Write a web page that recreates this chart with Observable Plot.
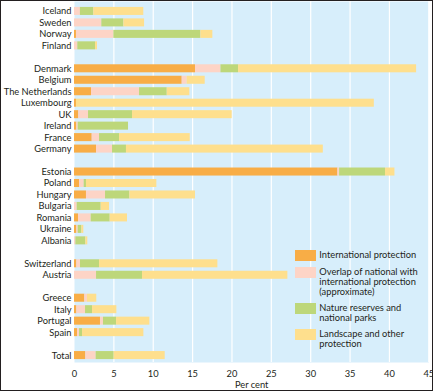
<!DOCTYPE html>
<html>
<head>
<meta charset="utf-8">
<script src="https://cdn.jsdelivr.net/npm/d3@7"></script>
<script src="https://cdn.jsdelivr.net/npm/@observablehq/plot@0.6"></script>
<style>
  html, body { margin: 0; padding: 0; background: #fff; }
  #wrap { position: relative; width: 433px; height: 391px; box-sizing: border-box; border: 1px solid #231f20; overflow: hidden; font-family: Lato, sans-serif; color: #231f20; }
  #wrap svg { display: block; }
  .lg-sw { position: absolute; width: 21px; height: 11px; }
  .lg-tx { position: absolute; font-size: 9.3px; line-height: 9.8px; white-space: nowrap; }
</style>
</head>
<body>
<div id="wrap"></div>
<script>
// Rows (spacers start with "_")
const rows = ["Iceland","Sweden","Norway","Finland","_g1",
  "Denmark","Belgium","The Netherlands","Luxembourg","UK","Ireland","France","Germany","_g2",
  "Estonia","Poland","Hungary","Bulgaria","Romania","Ukraine","Albania","_g3",
  "Switzerland","Austria","_g4",
  "Greece","Italy","Portugal","Spain","_g5",
  "Total"];
const countries = ["Iceland","Sweden","Norway","Finland",
  "Denmark","Belgium","The Netherlands","Luxembourg","UK","Ireland","France","Germany",
  "Estonia","Poland","Hungary","Bulgaria","Romania","Ukraine","Albania",
  "Switzerland","Austria",
  "Greece","Italy","Portugal","Spain",
  "Total"];
const series = ["International protection","Overlap of national with international protection (approximate)","Nature reserves and national parks","Landscape and other protection"];
const legendLines = [["International protection"],["Overlap of national with","international protection","(approximate)"],["Nature reserves and","national parks"],["Landscape and other","protection"]];
const colors = ["#f8ad46","#fdd4c6","#bdd77a","#fedf8d"];
const international = [0,0,0.25,0, 15.37,13.68,2.16,0.25,0.55,0.3,2.25,2.8, 33.46,0.64,1.52,0,0.51,0.3,0, 0.3,0, 1.31,0.3,3.3,0.38, 1.44];
const overlap       = [0.75,3.47,4.75,0.42, 3.23,0.62,6.1,0,1.23,0.17,0.93,2.03, 0.21,0.59,2.42,0.34,1.61,0.17,0.17, 0.46,2.8, 0.34,1.1,0.38,0.26, 1.31];
const nature        = [1.7,2.8,11.05,2.25, 2.24,0,3.52,0,5.59,6.39,2.54,1.77, 5.83,0.29,3.09,3.05,2.41,0.46,1.27, 2.42,5.84, 0,0.89,1.66,0.38, 2.29];
const landscape     = [6.35,2.63,1.52,0.25, 22.61,2.3,2.87,37.83,12.66,0,8.98,25.0, 1.2,8.94,8.34,1.06,2.2,0.25,0.25, 15.03,18.46, 1.18,3.09,4.23,7.79, 6.48];
const xTicks = [0,5,10,15,20,25,30,35,40,45];
const gridTicks = [5,10,15,20,25,30,35,40,45];

const valueArrays = [international, overlap, nature, landscape];
const long = [];
countries.forEach((c, i) => {
  series.forEach((s, j) => {
    const v = valueArrays[j][i];
    if (v > 0) long.push({country: c, series: s, value: v});
  });
});

const chart = Plot.plot({
  width: 431,
  height: 389,
  marginLeft: 73,
  marginRight: 3.7,
  marginTop: 0,
  marginBottom: 28,
  style: {fontFamily: "Lato, sans-serif", fontSize: "9.3px", color: "#231f20", background: "transparent", overflow: "visible"},
  x: {domain: [0, 45], ticks: xTicks, tickSize: 0, tickPadding: 8, label: null},
  y: {domain: rows, round: false, paddingInner: 0.3, paddingOuter: 0.385, align: 0.67, tickSize: 0, tickPadding: 3, label: null,
      tickFormat: d => d.startsWith("_") ? "" : d},
  color: {domain: series, range: colors},
  marks: [
    Plot.frame({fill: "#d7eefb", stroke: null}),
    Plot.ruleX(gridTicks, {stroke: "#ffffff", strokeWidth: 1.2}),
    Plot.barX(long, Plot.stackX({x: "value", y: "country", fill: "series", order: series})),
    Plot.text(["Per cent"], {frameAnchor: "bottom", dy: 23, lineAnchor: "middle", fill: "#231f20"})
  ]
});
const wrap = document.getElementById("wrap");
wrap.appendChild(chart);

// Legend (HTML overlay, inside plot area)
const centers = [254, 271, 307, 333.3];
series.forEach((s, i) => {
  const sw = document.createElement("div");
  sw.className = "lg-sw";
  sw.style.background = colors[i];
  sw.style.left = "294px";
  sw.style.top = (centers[i] - 5.5) + "px";
  wrap.appendChild(sw);
  const tx = document.createElement("div");
  tx.className = "lg-tx";
  tx.style.left = "318.3px";
  tx.style.top = (centers[i] - 4.9) + "px";
  tx.innerHTML = legendLines[i].join("<br>");
  wrap.appendChild(tx);
});
</script>
</body>
</html>
